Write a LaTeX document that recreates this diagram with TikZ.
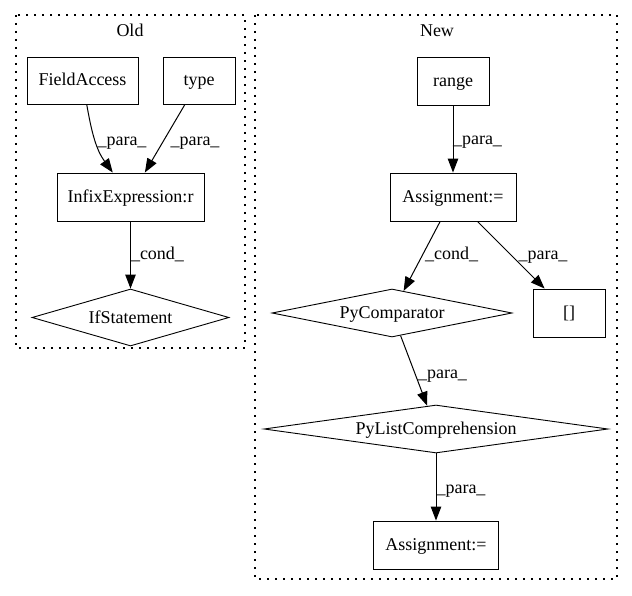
\documentclass[tikz,border=0pt]{standalone}
\usepackage{fontspec}
\setmainfont{Liberation Serif}
\usetikzlibrary{shapes.geometric,arrows.meta}
\tikzset{
  lbltext/.style={font=\fontsize{18}{21}\selectfont, inner sep=0pt},
  nodetext/.style={lbltext, text height=12pt, text depth=1pt},
  boxnode/.style={nodetext, draw, line width=0.9pt, rectangle},
  diamondnode/.style={nodetext, draw, line width=0.9pt, shape=diamond},
  clusterbox/.style={draw, line width=1.2pt, dash pattern=on 1.6pt off 6.4pt},
  edgeline/.style={draw, line width=1pt, -{Triangle[length=14pt,width=10.5pt]}},
  edgelabel/.style={lbltext, anchor=base}
}
\begin{document}
\begin{tikzpicture}[x=1pt,y=-1pt]
\useasboundingbox (0,0) rectangle (632,596);
% clusters
\draw[clusterbox] (16,15) rectangle (245,348);
\draw[clusterbox] (255,15) rectangle (617,579);
\node[edgelabel] (oldtitle) at (130,37) {Old};
\node[edgelabel] (newtitle) at (437,37) {New};
% Old nodes
\node[boxnode, minimum width=111pt, minimum height=47pt] (fa) at (82.5,80.5) {FieldAccess};
\node[boxnode, minimum width=72pt, minimum height=47pt] (type) at (199,80.5) {type};
\node[boxnode, minimum width=147pt, minimum height=48pt] (infix) at (130.5,197) {InfixExpression:r};
\node[diamondnode, minimum width=197pt, minimum height=57pt, aspect=3.4] (ifst) at (130.5,317.5) {IfStatement};
% New nodes
\node[boxnode, minimum width=72pt, minimum height=48pt] (range) at (453,81) {range};
\node[boxnode, minimum width=126pt, minimum height=48pt] (asgA) at (453,197) {Assignment:=};
\node[diamondnode, minimum width=240pt, minimum height=48pt, aspect=5] (pycomp) at (392,313) {PyComparator};
\node[boxnode, minimum width=72pt, minimum height=48pt] (brk) at (569,313) {[]};
\node[diamondnode, minimum width=344pt, minimum height=48pt, aspect=7.1] (plc) at (436,429) {PyListComprehension};
\node[boxnode, minimum width=125pt, minimum height=48pt] (asgB) at (436,545) {Assignment:=};
% edges
\draw[edgeline] (fa) to[out=-80,in=126] (infix);
\draw[edgeline] (type) -- (infix);
\draw[edgeline] (infix) -- (ifst);
\draw[edgeline] (range) -- (asgA);
\draw[edgeline] (asgA) -- (pycomp);
\draw[edgeline] (asgA) -- (brk);
\draw[edgeline] (pycomp) -- (plc);
\draw[edgeline] (plc) -- (asgB);
% edge labels
\node[edgelabel] (lA) at (122,146) {\_para\_};
\node[edgelabel] (lB) at (195,146) {\_para\_};
\node[edgelabel] (lC) at (157.5,259) {\_cond\_};
\node[edgelabel] (lD) at (477.5,145) {\_para\_};
\node[edgelabel] (lE) at (451.5,260) {\_cond\_};
\node[edgelabel] (lF) at (543,260) {\_para\_};
\node[edgelabel] (lG) at (442.5,378) {\_para\_};
\node[edgelabel] (lH) at (461,493) {\_para\_};
\end{tikzpicture}
\end{document}
